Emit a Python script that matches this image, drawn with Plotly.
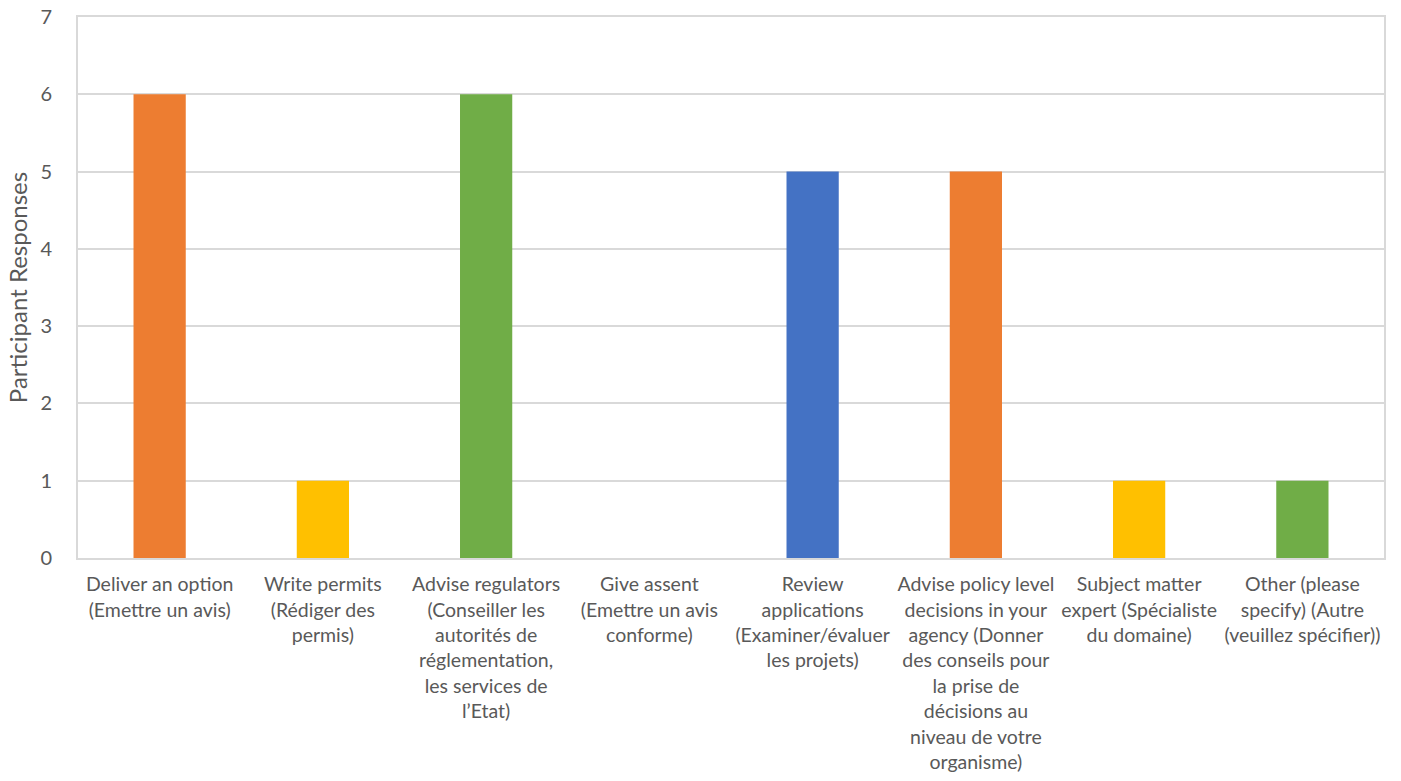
import plotly.graph_objects as go

# Survey categories (multi-line labels as displayed under each bar)
categories = [
    "Deliver an option<br>(Emettre un avis)",
    "Write permits<br>(Rédiger des<br>permis)",
    "Advise regulators<br>(Conseiller les<br>autorités de<br>réglementation,<br>les services de<br>l’Etat)",
    "Give assent<br>(Emettre un avis<br>conforme)",
    "Review<br>applications<br>(Examiner/évaluer<br>les projets)",
    "Advise policy level<br>decisions in your<br>agency (Donner<br>des conseils pour<br>la prise de<br>décisions au<br>niveau de votre<br>organisme)",
    "Subject matter<br>expert (Spécialiste<br>du domaine)",
    "Other (please<br>specify) (Autre<br>(veuillez spécifier))",
]
responses = [6, 1, 6, 0, 5, 5, 1, 1]
bar_colors = ["#ED7D31", "#FFC000", "#70AD47", "#A5A5A5",
              "#4472C4", "#ED7D31", "#FFC000", "#70AD47"]
y_ticks = [0, 1, 2, 3, 4, 5, 6, 7]

FONT = "Lato"
TEXT = "#595959"
GRID = "#D9D9D9"

fig = go.Figure(
    go.Bar(
        x=categories,
        y=responses,
        marker=dict(color=bar_colors, line=dict(width=0)),
        width=0.32,
        hoverinfo="x+y",
    )
)

fig.update_layout(
    width=1401,
    height=781,
    margin=dict(l=78, r=17, t=17, b=223, autoexpand=False),
    paper_bgcolor="white",
    plot_bgcolor="white",
    showlegend=False,
    font=dict(family=FONT, size=19.5, color=TEXT),
)

fig.update_xaxes(
    automargin=False,
    showline=True, linecolor=GRID, linewidth=2, mirror=True,
    showgrid=False, tickangle=0,
    ticks="outside", ticklen=8, tickcolor="rgba(0,0,0,0)",
    tickfont=dict(family=FONT, size=19.5, color=TEXT),
)

fig.update_yaxes(
    automargin=False,
    range=[0, 7],
    tickvals=y_ticks,
    showline=True, linecolor=GRID, linewidth=2, mirror=True,
    showgrid=True, gridcolor=GRID, gridwidth=1.5,
    zeroline=False,
    ticks="outside", ticklen=20, tickcolor="rgba(0,0,0,0)",
    tickfont=dict(family=FONT, size=20, color=TEXT),
    title=dict(text="Participant Responses", standoff=6,
               font=dict(family=FONT, size=24, color=TEXT)),
)

fig.write_html("out.html")
